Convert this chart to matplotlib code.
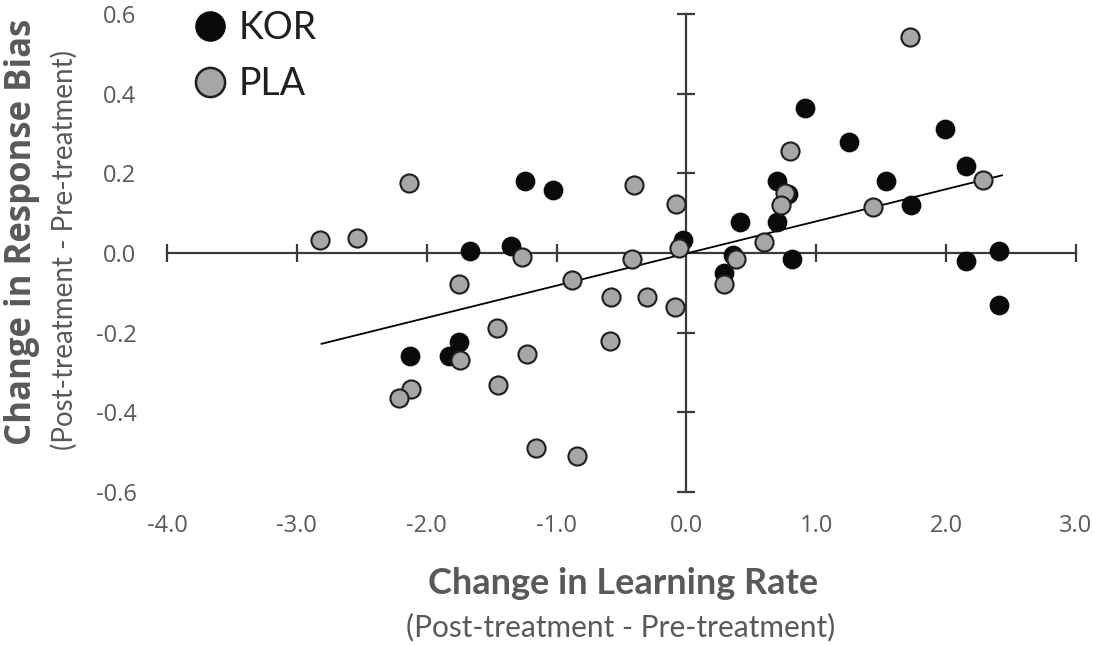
import numpy as np
import matplotlib.pyplot as plt
from matplotlib.lines import Line2D

# change in learning rate (x) / change in response bias (y)
kor_x = [-1.24, -1.03, -1.67, -1.35, -1.75, -2.13, -1.83, -0.03, 0.91, 1.99, 1.25, 2.15,
         1.54, 0.70, 0.78, 1.73, 0.41, 0.70, 0.36, 0.81, 2.41, 2.15, 0.29, 2.41]
kor_y = [0.180, 0.159, 0.004, 0.017, -0.224, -0.258, -0.258, 0.032, 0.363, 0.311, 0.278, 0.218,
         0.180, 0.180, 0.148, 0.121, 0.079, 0.079, -0.004, -0.015, 0.005, -0.021, -0.050, -0.131]

pla_x = [1.72, 0.80, 2.28, 0.76, 0.73, 1.44, 0.60, -0.40, -0.08, -0.06, -0.42, 0.38, -0.88,
         -2.14, -2.82, -2.54, -1.27, -1.75, -1.46, -1.74, -1.23, -2.12, -2.21, -1.45, -1.16,
         -0.58, -0.30, -0.09, -0.59, -0.84, 0.29]
pla_y = [0.543, 0.257, 0.184, 0.150, 0.121, 0.115, 0.027, 0.170, 0.122, 0.013, -0.014, -0.015, -0.068,
         0.175, 0.032, 0.037, -0.010, -0.078, -0.189, -0.268, -0.253, -0.341, -0.364, -0.331, -0.490,
         -0.111, -0.111, -0.136, -0.221, -0.510, -0.079]

# trend line
trend_x = [-2.81, 2.43]
trend_y = [-0.228, 0.195]

x_ticks = [-4.0, -3.0, -2.0, -1.0, 0.0, 1.0, 2.0, 3.0]
y_ticks = [-0.6, -0.4, -0.2, 0.0, 0.2, 0.4, 0.6]

axis_col = '#3a3a3a'
text_col = '#595959'

fig = plt.figure(figsize=(10.94, 6.45), dpi=100)
ax = fig.add_axes([167 / 1094, 1 - 492 / 645, 909 / 1094, 478 / 645])
ax.set_xlim(-4, 3)
ax.set_ylim(-0.6, 0.6)
for s in ax.spines.values():
    s.set_visible(False)

# axes crossing at the origin, with their own tick marks
ax.plot([-4, 3], [0, 0], color=axis_col, lw=1.6, clip_on=False, zorder=1)
ax.plot([0, 0], [-0.6, 0.6], color=axis_col, lw=1.6, clip_on=False, zorder=1)
xm = [t for t in x_ticks if t != 0]
ym = [t for t in y_ticks if t != 0]
ax.plot(xm, np.zeros(len(xm)), ls='', marker='|', ms=13, mew=1.6, color=axis_col, clip_on=False, zorder=1)
ax.plot(np.zeros(len(ym)), ym, ls='', marker='_', ms=13, mew=1.6, color=axis_col, clip_on=False, zorder=1)

ax.plot(trend_x, trend_y, color='black', lw=1.3, zorder=2)

ax.scatter(kor_x, kor_y, s=170, color='#0a0a0a', edgecolor='#0a0a0a', linewidth=1.2, zorder=3)
ax.scatter(pla_x, pla_y, s=170, color='#a6a6a6', edgecolor='#1e1e1e', linewidth=1.5, zorder=4)

ax.set_xticks(x_ticks)
ax.set_xticklabels([f'{t:.1f}' for t in x_ticks])
ax.set_yticks(y_ticks)
ax.set_yticklabels([f'{t:.1f}' for t in y_ticks])
ax.tick_params(length=0, labelsize=17, labelcolor=text_col)
ax.tick_params(axis='x', pad=16)
ax.tick_params(axis='y', pad=22)
for lab in ax.get_xticklabels() + ax.get_yticklabels():
    lab.set_family('Open Sans')

# axis titles
fig.text(623 / 1094, 1 - 583 / 645, 'Change in Learning Rate', ha='center', va='center',
         fontsize=26, fontweight='bold', family='Lato', color=text_col)
fig.text(621 / 1094, 1 - 627 / 645, '(Post-treatment - Pre-treatment)', ha='center', va='center',
         fontsize=21.5, family='Lato', color=text_col)
fig.text(22 / 1094, 1 - 232 / 645, 'Change in Response Bias', ha='center', va='center', rotation=90,
         fontsize=25, fontweight='bold', family='Open Sans', color=text_col)
fig.text(64 / 1094, 1 - 250 / 645, '(Post-treatment - Pre-treatment)', ha='center', va='center', rotation=90,
         fontsize=20, family='Lato', color=text_col)

handles = [Line2D([], [], ls='', marker='o', ms=21, color='#0a0a0a', mec='#0a0a0a'),
           Line2D([], [], ls='', marker='o', ms=21, color='#a6a6a6', mec='#1e1e1e', mew=1.8)]
leg = fig.legend(handles, ['KOR', 'PLA'], loc='upper left', bbox_to_anchor=(154 / 1094, 1 + 24 / 645),
                 frameon=False, handletextpad=0.15, labelspacing=0.55, handlelength=1.2,
                 prop={'family': 'Lato', 'size': 27})
for t in leg.get_texts():
    t.set_color('#231f20')

fig.savefig('out.png', dpi=100)
